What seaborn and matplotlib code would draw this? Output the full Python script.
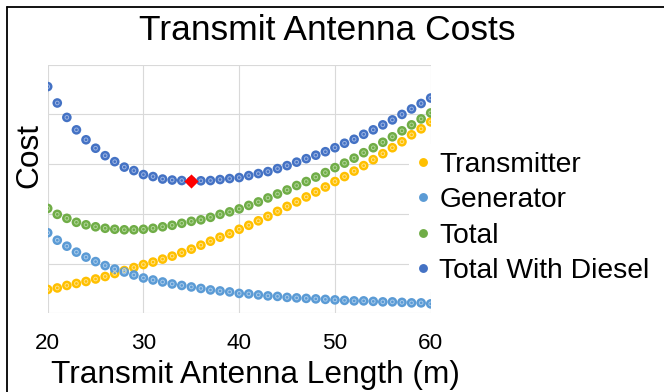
import matplotlib
matplotlib.use("Agg")
import matplotlib.pyplot as plt
from matplotlib.lines import Line2D
import numpy as np
import pandas as pd
import seaborn as sns

# Antenna length (m)
length_m = list(range(20, 61))

# Cost components (relative cost units)
transmitter = [0.48, 0.51, 0.56, 0.60, 0.64, 0.69, 0.74, 0.80, 0.86, 0.92,
               0.98, 1.03, 1.09, 1.15, 1.22, 1.29, 1.37, 1.45, 1.53, 1.60,
               1.69, 1.77, 1.86, 1.95, 2.05, 2.15, 2.24, 2.34, 2.44, 2.54,
               2.65, 2.75, 2.86, 2.97, 3.09, 3.21, 3.33, 3.45, 3.59, 3.71,
               3.85]
generator = [1.62, 1.47, 1.35, 1.23, 1.13, 1.04, 0.96, 0.89, 0.83, 0.77,
             0.71, 0.67, 0.63, 0.59, 0.56, 0.53, 0.50, 0.47, 0.45, 0.43,
             0.40, 0.39, 0.37, 0.35, 0.34, 0.32, 0.31, 0.30, 0.29, 0.28,
             0.27, 0.26, 0.25, 0.25, 0.24, 0.23, 0.23, 0.22, 0.21, 0.21,
             0.19]
total = [2.11, 1.99, 1.91, 1.83, 1.78, 1.74, 1.71, 1.69, 1.68, 1.68,
         1.69, 1.71, 1.74, 1.77, 1.81, 1.85, 1.88, 1.93, 1.99, 2.04,
         2.10, 2.17, 2.24, 2.32, 2.40, 2.48, 2.57, 2.65, 2.74, 2.83,
         2.93, 3.02, 3.12, 3.23, 3.33, 3.44, 3.55, 3.67, 3.79, 3.91,
         4.03]
total_with_diesel = [4.56, 4.23, 3.94, 3.69, 3.49, 3.32, 3.17, 3.05, 2.94, 2.87,
                     2.79, 2.75, 2.70, 2.68, 2.67, 2.66, 2.665, 2.67, 2.69, 2.71,
                     2.73, 2.77, 2.81, 2.85, 2.91, 2.97, 3.04, 3.11, 3.18, 3.25,
                     3.33, 3.42, 3.50, 3.60, 3.69, 3.79, 3.89, 4.00, 4.11, 4.22,
                     4.33]

series_names = ["Transmitter", "Generator", "Total", "Total With Diesel"]
series_colors = ["#FFC000", "#5B9BD5", "#70AD47", "#4472C4"]
inner_colors = ["#FFE28A", "#A9CBEB", "#B1D69A", "#9DB5E3"]
x_ticks = [20, 30, 40, 50, 60]

df = pd.DataFrame({
    "Length": length_m * 4,
    "Cost": transmitter + generator + total + total_with_diesel,
    "Series": sum([[n] * len(length_m) for n in series_names], []),
})

sns.set_theme(style="white")
plt.rcParams["font.family"] = ["Liberation Sans", "DejaVu Sans"]
plt.rcParams["text.color"] = "black"
plt.rcParams["xtick.color"] = "black"
plt.rcParams["xtick.labelcolor"] = "black"

W, H = 664, 392
fig = plt.figure(figsize=(W / 100, H / 100), dpi=100)
fig.patch.set_facecolor("white")

# plot area in pixels
left, right, top, bottom = 47.7, 430.7, 64.7, 313.3
ax = fig.add_axes([left / W, 1 - bottom / H, (right - left) / W, (bottom - top) / H])
ax.set_facecolor("white")

sns.scatterplot(data=df, x="Length", y="Cost", hue="Series",
                hue_order=series_names, palette=series_colors,
                s=48, linewidth=0, legend=False, ax=ax, zorder=3)

# light inner ring of each marker
for name, col in zip(series_names, inner_colors):
    sub = df[df["Series"] == name]
    ax.scatter(sub["Length"], sub["Cost"], s=7, facecolors="none",
               edgecolors=col, linewidths=0.7, zorder=4)

# lowest total cost including diesel
i_min = int(np.argmin(total_with_diesel))
ax.scatter([length_m[i_min]], [total_with_diesel[i_min]], marker="D",
           s=52, color="#FF0000", linewidths=0, zorder=5)

ax.set_xlim(20, 60)
ax.set_ylim(0, 5)
ax.set_xticks(x_ticks)
ax.set_xticklabels([str(t) for t in x_ticks], fontsize=16.2, color="black")
ax.set_yticks([0, 1, 2, 3, 4, 5])
ax.set_yticklabels([])
ax.tick_params(axis="both", length=0)
ax.tick_params(axis="x", pad=14)
ax.grid(True, color="#D9D9D9", linewidth=0.8)
ax.set_axisbelow(True)
for sp in ax.spines.values():
    sp.set_visible(False)
ax.set_xlabel("")
ax.set_ylabel("")

fig.text(327 / W, 1 - 40 / H, "Transmit Antenna Costs", fontsize=25.5,
         ha="center", va="baseline", color="black")
fig.text(51 / W, 1 - 383 / H, "Transmit Antenna Length (m)", fontsize=22.8,
         ha="left", va="baseline", color="black")
fig.text(29 / W, 1 - 155 / H, "Cost", fontsize=22.8, rotation=90,
         ha="center", va="center", color="black")

handles = [Line2D([], [], linestyle="none", marker="o", markersize=6.4,
                  markerfacecolor=c, markeredgewidth=0) for c in series_colors]
leg = ax.legend(handles, series_names, loc="center left",
                bbox_to_anchor=(409 / W, 1 - 218 / H),
                bbox_transform=fig.transFigure, fontsize=20.3,
                frameon=True, facecolor="white", edgecolor="none",
                framealpha=1, labelspacing=0.33, handlelength=0.4,
                handletextpad=0.37, borderpad=0.3, borderaxespad=0)
for t in leg.get_texts():
    t.set_color("black")
leg.set_zorder(10)

# chart frame
fig.add_artist(Line2D([7 / W, 7 / W], [0, 1 - 7 / H], color="black",
                      linewidth=1.3, transform=fig.transFigure))
fig.add_artist(Line2D([7 / W, 1], [1 - 7 / H, 1 - 7 / H], color="black",
                      linewidth=1.3, transform=fig.transFigure))

fig.savefig("out.png", dpi=100, facecolor="white")
